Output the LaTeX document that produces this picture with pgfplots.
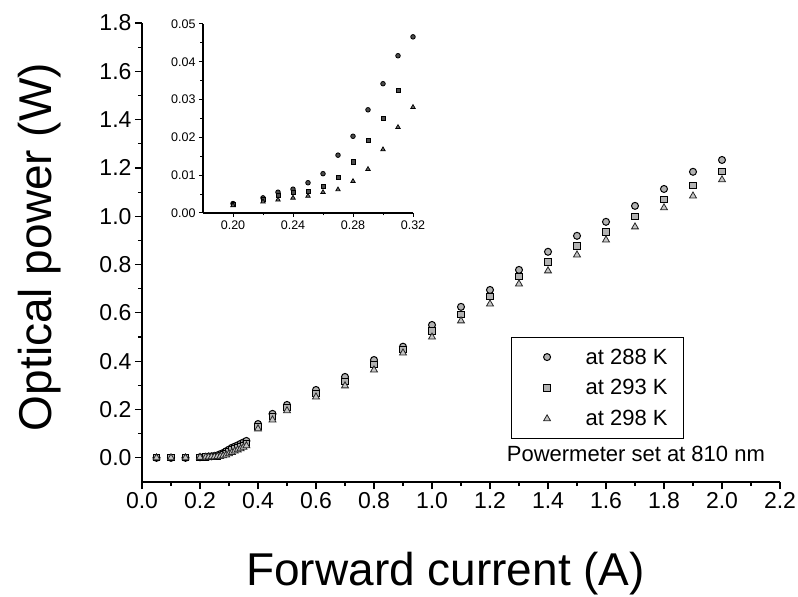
\documentclass[border=0pt]{standalone}
\usepackage{pgfplots}
\pgfplotsset{compat=1.18}
\usepackage{pgfplotstable}
\usepackage{fontspec}
\setmainfont{Liberation Sans}

% main data: x, 288K, 293K, 298K
\pgfplotstableread{
x a b c
0.05 0.000 0.000 0.000
0.10 0.000 0.000 0.000
0.15 0.000 0.000 0.000
0.20 0.0025 0.0022 0.0020
0.22 0.0040 0.0035 0.0030
0.23 0.0055 0.0046 0.0035
0.24 0.0063 0.0055 0.0040
0.25 0.0080 0.0057 0.0045
0.26 0.0104 0.0070 0.0055
0.27 0.0153 0.0094 0.0062
0.28 0.0203 0.0135 0.0084
0.29 0.0273 0.0192 0.0116
0.30 0.0342 0.0251 0.0168
0.31 0.0416 0.0324 0.0227
0.32 0.0466 0.0370 0.0280
0.33 0.0520 0.0420 0.0330
0.34 0.0580 0.0470 0.0380
0.35 0.0640 0.0520 0.0440
0.36 0.0700 0.0580 0.0500
0.40 0.140 0.130 0.120
0.45 0.182 0.170 0.157
0.50 0.219 0.207 0.195
0.60 0.281 0.266 0.252
0.70 0.335 0.316 0.298
0.80 0.405 0.385 0.364
0.90 0.460 0.447 0.434
1.00 0.550 0.525 0.500
1.10 0.625 0.595 0.567
1.20 0.695 0.667 0.637
1.30 0.778 0.750 0.720
1.40 0.853 0.811 0.774
1.50 0.919 0.877 0.840
1.60 0.977 0.935 0.902
1.70 1.043 0.998 0.956
1.80 1.113 1.068 1.035
1.90 1.184 1.126 1.084
2.00 1.233 1.184 1.151
}\maindata

% inset data
\pgfplotstableread{
x y
0.20 0.0025
0.22 0.0040
0.23 0.0055
0.24 0.0063
0.25 0.0080
0.26 0.0104
0.27 0.0153
0.28 0.0203
0.29 0.0273
0.30 0.0342
0.31 0.0416
0.32 0.0466
}\insetA
\pgfplotstableread{
x y
0.20 0.0022
0.22 0.0035
0.23 0.0046
0.24 0.0055
0.25 0.0057
0.26 0.0070
0.27 0.0094
0.28 0.0135
0.29 0.0192
0.30 0.0251
0.31 0.0324
}\insetB
\pgfplotstableread{
x y
0.20 0.0020
0.22 0.0030
0.23 0.0035
0.24 0.0040
0.25 0.0045
0.26 0.0055
0.27 0.0062
0.28 0.0084
0.29 0.0116
0.30 0.0168
0.31 0.0227
0.32 0.0280
}\insetC

\begin{document}
\begin{tikzpicture}
\useasboundingbox (-142pt,-115pt) rectangle (656pt,482pt);
\begin{axis}[
  at={(0pt,0pt)}, anchor=south west,
  scale only axis, width=638pt, height=459pt,
  xmin=0, xmax=2.2, ymin=-0.1, ymax=1.8,
  axis x line=bottom, axis y line=left,
  axis line style={-, line width=1.5pt},
  xtick={0,0.2,0.4,0.6,0.8,1.0,1.2,1.4,1.6,1.8,2.0,2.2},
  ytick={0,0.2,0.4,0.6,0.8,1.0,1.2,1.4,1.6,1.8},
  minor tick num=1,
  tick align=outside,
  major tick length=7pt, minor tick length=4pt,
  every tick/.style={black, line width=1.2pt},
  /pgf/number format/assume math mode=true,
  /pgf/number format/fixed,
  /pgf/number format/fixed zerofill,
  /pgf/number format/precision=1,
  ticklabel style={font=\fontsize{23}{26}\selectfont},
  xlabel={Forward current (A)},
  ylabel={Optical power (W)},
  xlabel style={font=\fontsize{46}{50}\selectfont, at={(axis description cs:0.476,0)}, anchor=base, yshift=-103pt},
  ylabel style={font=\fontsize{46}{50}\selectfont, at={(axis description cs:0,0.512)}, anchor=base, yshift=90pt},
  legend style={at={(axis cs:1.272,0.5)}, anchor=north west, draw=black, line width=1.2pt,
    font=\fontsize{22}{26}\selectfont, inner xsep=14pt, inner ysep=9pt, row sep=10pt},
  legend cell align=left,
  legend image code/.code={\path (0pt,0pt) (57pt,0pt); \draw[mark repeat=2,mark phase=2,#1] plot coordinates {(0pt,0pt) (21pt,0pt) (57pt,0pt)};},
]
\addplot[only marks, mark=*, mark size=3.5pt, mark options={draw=black, fill=gray!60, line width=1pt}] table[x=x, y=a] {\maindata};
\addlegendentry{at 288 K}
\addplot[only marks, mark=square*, mark size=3.1pt, mark options={draw=black, fill=gray!60, line width=1pt}] table[x=x, y=b] {\maindata};
\addlegendentry{at 293 K}
\addplot[only marks, mark=triangle*, mark size=4pt, mark options={draw=black!85, fill=gray!45, line width=0.8pt}] table[x=x, y=c] {\maindata};
\addlegendentry{at 298 K}
\node[font=\fontsize{22}{26}\selectfont] at (axis cs:1.703,0.017) {Powermeter set at 810 nm};
\end{axis}

\begin{axis}[
  at={(61pt,269pt)}, anchor=south west,
  scale only axis, width=210pt, height=189pt,
  xmin=0.18, xmax=0.32, ymin=0, ymax=0.05,
  axis x line=bottom, axis y line=left,
  axis line style={-, line width=1.2pt},
  xtick={0.20,0.24,0.28,0.32},
  ytick={0,0.01,0.02,0.03,0.04,0.05},
  minor tick num=1,
  tick align=outside,
  major tick length=4pt, minor tick length=2.5pt,
  every tick/.style={black, line width=1pt},
  /pgf/number format/assume math mode=true,
  /pgf/number format/fixed,
  /pgf/number format/fixed zerofill,
  /pgf/number format/precision=2,
  scaled ticks=false,
  ticklabel style={font=\fontsize{12.5}{14}\selectfont},
  clip=false,
]
\addplot[only marks, mark=*, mark size=2.3pt, mark options={draw=black, fill=black!70, line width=0.8pt}] table {\insetA};
\addplot[only marks, mark=square*, mark size=2.1pt, mark options={draw=black, fill=black!70, line width=0.8pt}] table {\insetB};
\addplot[only marks, mark=triangle*, mark size=2.6pt, mark options={draw=black, fill=black!60, line width=0.7pt}] table {\insetC};
\end{axis}
\end{tikzpicture}
\end{document}
